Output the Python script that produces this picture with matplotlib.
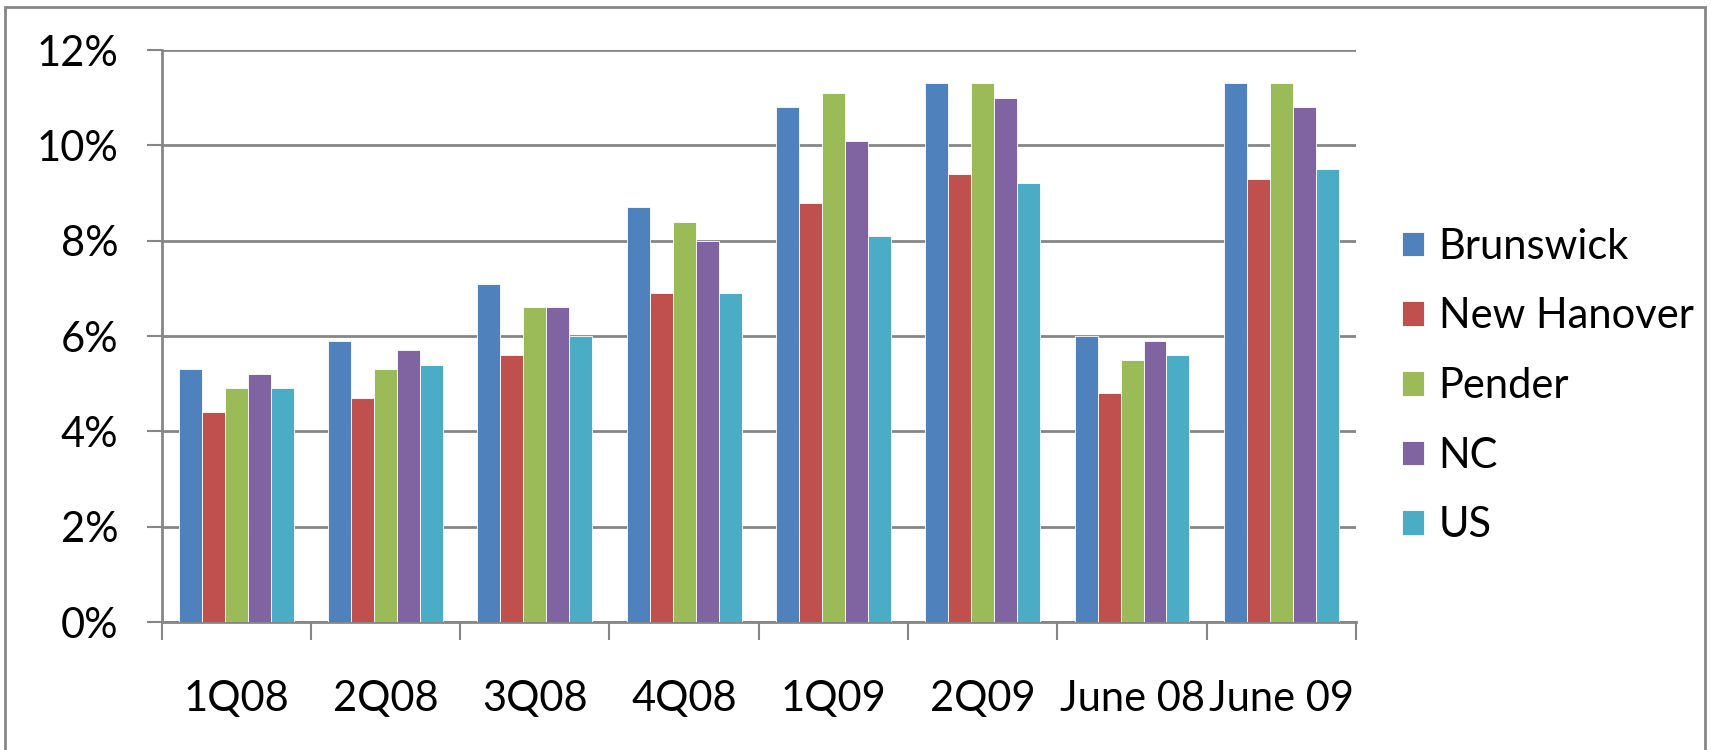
import numpy as np
import matplotlib
matplotlib.use("Agg")
import matplotlib.pyplot as plt
import matplotlib.ticker as mticker
from matplotlib.patches import Rectangle

# ------------------- data -------------------
categories = ["1Q08", "2Q08", "3Q08", "4Q08", "1Q09", "2Q09", "June 08", "June 09"]
brunswick = [5.3, 5.9, 7.1, 8.7, 10.8, 11.3, 6.0, 11.3]
new_hanover = [4.4, 4.7, 5.6, 6.9, 8.8, 9.4, 4.8, 9.3]
pender = [4.9, 5.3, 6.6, 8.4, 11.1, 11.3, 5.5, 11.3]
nc = [5.2, 5.7, 6.6, 8.0, 10.1, 11.0, 5.9, 10.8]
us = [4.9, 5.4, 6.0, 6.9, 8.1, 9.2, 5.6, 9.5]
series_names = ["Brunswick", "New Hanover", "Pender", "NC", "US"]
colors = ["#4F81BD", "#C0504D", "#9BBB59", "#8064A2", "#4BACC6"]

plt.rcParams["font.family"] = ["Lato", "DejaVu Sans"]
FS = 30
GRAY = "#868686"

W, H = 1711, 750
fig = plt.figure(figsize=(W / 100, H / 100), dpi=100)
ax = fig.add_axes([161.5 / W, 1 - 622 / H, (1356 - 161.5) / W, (622 - 50) / H])

# bars: 5 bars + gap of 1.5 bar widths per category
bw = 1 / 6.5
x = np.arange(len(categories))
for i, (vals, name, c) in enumerate(zip([brunswick, new_hanover, pender, nc, us], series_names, colors)):
    ax.bar(x + (i - 2) * bw, vals, width=bw, color=c, label=name,
           edgecolor="white", linewidth=0.6, zorder=3)

ax.set_xlim(-0.5, len(categories) - 0.5)
ax.set_ylim(0, 12)
ax.yaxis.set_major_locator(mticker.MultipleLocator(2))
ax.yaxis.set_major_formatter(mticker.FuncFormatter(lambda v, p: f"{v:.0f}%"))
ax.grid(axis="y", color=GRAY, linewidth=2, zorder=0)

# category boundary ticks, labels centred
ax.set_xticks(np.arange(-0.5, len(categories)), [""] * (len(categories) + 1))
ax.set_xticks(x, categories, minor=True)
ax.tick_params(axis="x", which="major", length=13, width=1.5, color=GRAY, direction="out")
ax.tick_params(axis="x", which="minor", length=0, pad=42, labelsize=FS)
ax.tick_params(axis="y", length=11, width=1.5, color=GRAY, direction="out", pad=20, labelsize=FS)

for s in ["top", "right"]:
    ax.spines[s].set_visible(False)
for s in ["left", "bottom"]:
    ax.spines[s].set_color(GRAY)
    ax.spines[s].set_linewidth(2)

ax.legend(loc="center left", bbox_to_anchor=(1402 / W, 1 - 386 / H), bbox_transform=fig.transFigure,
          frameon=False, fontsize=FS, handlelength=0.53, handleheight=0.53,
          handletextpad=0.35, labelspacing=0.76, borderpad=0, borderaxespad=0)

# outer chart border
fig.patches.append(Rectangle((5 / W, -0.01), (1705 - 5) / W, 1 - 7 / H + 0.01,
                             transform=fig.transFigure, fill=False, edgecolor=GRAY, linewidth=2))

fig.savefig("out.png", dpi=100)
